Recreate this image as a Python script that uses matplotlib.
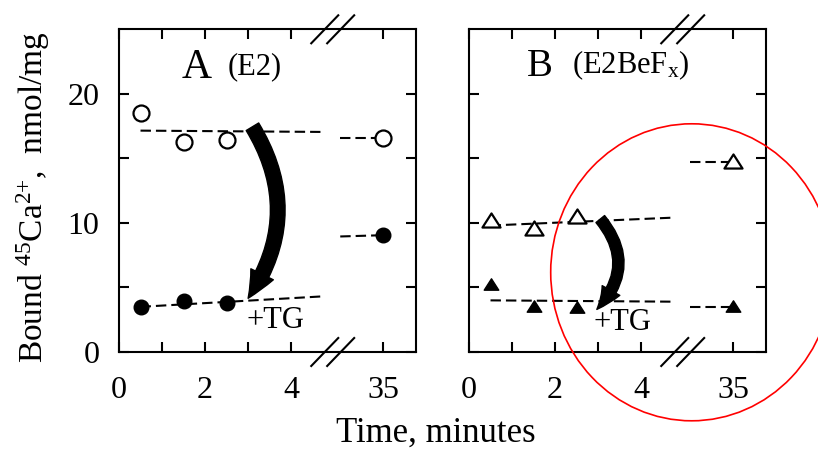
import numpy as np
import matplotlib
matplotlib.use("Agg")
import matplotlib.pyplot as plt
from matplotlib.patches import FancyArrowPatch, Ellipse
from matplotlib.path import Path

plt.rcParams['font.family'] = ['Liberation Serif', 'DejaVu Serif']
plt.rcParams['mathtext.fontset'] = 'custom'
plt.rcParams['mathtext.rm'] = 'Liberation Serif'
plt.rcParams['mathtext.it'] = 'Liberation Serif:italic'
plt.rcParams['lines.scale_dashes'] = False

# ---------------- data ----------------
times = [0.5, 1.5, 2.5, 35]

A_open = [18.5, 16.3, 16.4, 16.6]      # E2, no TG
A_filled = [3.5, 3.95, 3.8, 9.05]      # E2, +TG
B_open = [10.2, 9.6, 10.55, 14.8]      # E2BeFx, no TG
B_filled = [5.27, 3.6, 3.45, 3.6]      # E2BeFx, +TG

# dashed fit lines (early segment and late segment)
fit_early_x = [0.5, 4.68]
fit_late_x = [34.0, 35.0]
A_open_early = [17.15, 17.05]
A_open_late = [16.6, 16.6]
A_filled_early = [3.5, 4.3]
A_filled_late = [8.95, 9.05]
B_open_early = [9.8, 10.4]
B_open_late = [14.7, 14.7]
B_filled_early = [4.0, 3.9]
B_filled_late = [3.47, 3.47]

xticks_major = [0, 2, 4, 35]
xtick_labels = ['0', '2', '4', '35']
xticks_minor = [1, 3]
yticks_major = [0, 10, 20]
ytick_labels = ['0', '10', '20']
yticks_minor = [5, 15]

# ---------------- broken x scale ----------------
BR0, BR1, SHIFT = 4.97, 34.0, 28.86
P1 = BR1 - SHIFT


def fwd(t):
    t = np.asarray(t, dtype=float)
    mid = BR0 + (t - BR0) * (P1 - BR0) / (BR1 - BR0)
    return np.where(t <= BR0, t, np.where(t >= BR1, t - SHIFT, mid))


def inv(p):
    p = np.asarray(p, dtype=float)
    mid = BR0 + (p - BR0) * (BR1 - BR0) / (P1 - BR0)
    return np.where(p <= BR0, p, np.where(p >= P1, p + SHIFT, mid))


fig = plt.figure(figsize=(8.18, 4.5), dpi=100)
axA = fig.add_axes([119 / 818, 98 / 450, 297 / 818, 322.7 / 450])
axB = fig.add_axes([469 / 818, 98 / 450, 297 / 818, 322.7 / 450])

tri = Path([(-1, -0.78), (1, -0.78), (0, 0.78), (-1, -0.78)], closed=True)

dash = dict(color='black', lw=1.5, linestyle=(0, (7.5, 3.6)))


def setup(ax, show_ylabels):
    ax.set_xscale('function', functions=(fwd, inv))
    ax.set_xlim(0, 35.76)
    ax.set_ylim(0, 25)
    ax.set_xticks(xticks_major)
    ax.set_xticklabels(xtick_labels)
    ax.set_xticks(xticks_minor, minor=True)
    ax.set_yticks(yticks_major)
    ax.set_yticks(yticks_minor, minor=True)
    if show_ylabels:
        ax.set_yticklabels(ytick_labels)
    else:
        ax.set_yticklabels([])
    for s in ax.spines.values():
        s.set_linewidth(1.5)
    ax.tick_params(which='both', direction='in', top=True, right=True,
                   length=7, width=1.5, labelsize=23)
    ax.tick_params(axis='x', which='both', pad=17)
    ax.tick_params(axis='y', which='both', pad=14)


setup(axA, True)
setup(axB, False)
fig.canvas.draw()

# break marks on the top and bottom spines
for ax in (axA, axB):
    for p in (4.78, 5.15):
        bx = float(inv(p))
        for yy in (0, 1):
            x0 = ax.transData.transform((bx, 0))[0]
            y0 = ax.transAxes.transform((0, yy))[1]
            ax.plot([x0 - 13.5, x0 + 13.5], [y0 - 14, y0 + 14], color='black', lw=1.5,
                    transform=None, clip_on=False)

# panel A
axA.plot(fit_early_x, A_open_early, **dash)
axA.plot(fit_late_x, A_open_late, **dash)
axA.plot(fit_early_x, A_filled_early, **dash)
axA.plot(fit_late_x, A_filled_late, **dash)
axA.plot(times, A_open, 'o', ms=11.5, mfc='white', mec='black', mew=1.6, zorder=5)
axA.plot(times, A_filled, 'o', ms=10.5, mfc='black', mec='black', mew=1, zorder=5)

# panel B
axB.plot(fit_early_x, B_open_early, **dash)
axB.plot(fit_late_x, B_open_late, **dash)
axB.plot(fit_early_x, B_filled_early, **dash)
axB.plot(fit_late_x, B_filled_late, **dash)
axB.plot(times, B_open, marker=tri, ls='none', ms=13, mfc='white', mec='black', mew=1.6, zorder=5)
axB.plot(times, B_filled, marker=tri, ls='none', ms=10.5, mfc='black', mec='black', mew=1, zorder=5)

# curved arrows
arrA = FancyArrowPatch((3.1, 17.45), (3.0, 4.16),
                       connectionstyle='arc3,rad=-0.32',
                       arrowstyle='simple,head_length=2.0,head_width=1.8,tail_width=1.05',
                       mutation_scale=10, color='black', shrinkA=0, shrinkB=0, zorder=6)
axA.add_patch(arrA)
arrB = FancyArrowPatch((3.05, 10.3), (2.97, 3.3),
                       connectionstyle='arc3,rad=-0.44',
                       arrowstyle='simple,head_length=1.7,head_width=1.45,tail_width=0.8',
                       mutation_scale=10, color='black', shrinkA=0, shrinkB=0, zorder=6)
axB.add_patch(arrB)

axA.text(2.97, 1.84, '+TG', fontsize=22, ha='left', va='baseline')
axB.text(2.9, 1.7, '+TG', fontsize=22, ha='left', va='baseline')

axA.text(1.46, 21.2, 'A', fontsize=30, ha='left', va='baseline')
axA.text(2.53, 21.5, '(E2)', fontsize=22, ha='left', va='baseline')
axB.text(1.34, 21.4, 'B', fontsize=28, ha='left', va='baseline')
axB.text(2.4, 21.6, r'(E2BeF$_{\mathrm{x}}$)', fontsize=22, ha='left', va='baseline')

fig.text(436 / 818, 1 - 442 / 450, 'Time, minutes', fontsize=25, ha='center', va='baseline')
fig.text(33 / 818, 1 - 197.5 / 450, r'Bound $^{45}$Ca$^{2{+}}$,  nmol/mg', fontsize=24,
         rotation=90, ha='center', va='center')

# red circle annotation
fig.patches.append(Ellipse((691.7 / 818, 1 - 272.3 / 450), 282 / 818, 297 / 450,
                           transform=fig.transFigure, fill=False, edgecolor='#ff0000', lw=1.2))

fig.savefig('out.png', dpi=100)
